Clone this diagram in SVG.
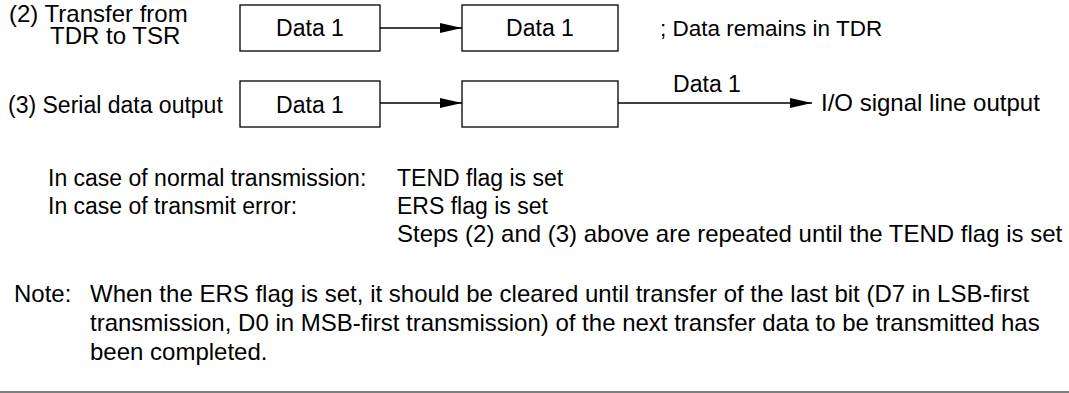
<svg xmlns="http://www.w3.org/2000/svg" width="1069" height="393" viewBox="0 0 1069 393">
<defs>
<style>
text{font-family:"Liberation Sans",Arial,sans-serif;font-size:23px;fill:#000}
.c{text-anchor:middle}
.l{font-size:24px}
.box{fill:#fff;stroke:#000;stroke-width:1.3}
.ln{stroke:#000;stroke-width:1.3;fill:none}
</style>
<marker id="ah" markerUnits="userSpaceOnUse" markerWidth="24" markerHeight="12" refX="22" refY="5" orient="auto">
<path d="M0,0 L22,5 L0,10 Z" fill="#000"/>
</marker>
</defs>
<rect width="1069" height="393" fill="#fff"/>
<g id="labels">
<text class="l" x="9" y="22">(2) Transfer from</text>
<text class="l" x="50" y="44">TDR to TSR</text>
<text x="8" y="113">(3) Serial data output</text>
</g>
<g id="tdr1"><rect class="box" x="240" y="5" width="140" height="46"/><text class="c" x="310" y="36">Data 1</text></g>
<g id="tsr1"><rect class="box" x="462" y="5" width="156" height="46"/><text class="c" x="540" y="36">Data 1</text></g>
<g id="note1"><text x="660" y="36" style="font-size:22.5px">; Data remains in TDR</text></g>
<g id="tdr2"><rect class="box" x="240" y="81" width="140" height="46"/><text class="c" x="310" y="113">Data 1</text></g>
<g id="tsr2"><rect class="box" x="462" y="81" width="156" height="46"/></g>
<g id="out"><text class="l" x="821" y="111">I/O signal line output</text></g>
<g id="connectors">
<line class="ln" x1="380" y1="28" x2="462" y2="28" marker-end="url(#ah)"/>
<line class="ln" x1="380" y1="103" x2="462" y2="103" marker-end="url(#ah)"/>
<line class="ln" x1="618" y1="103" x2="812" y2="103" marker-end="url(#ah)"/>
<text class="c" x="707" y="92">Data 1</text>
</g>
<g id="status">
<text x="48" y="186">In case of normal transmission:</text>
<text x="397" y="186">TEND flag is set</text>
<text x="48" y="214">In case of transmit error:</text>
<text x="397" y="214">ERS flag is set</text>
<text class="l" x="397" y="242">Steps (2) and (3) above are repeated until the TEND flag is set</text>
</g>
<g id="note">
<text class="l" x="14" y="302">Note:</text>
<text class="l" x="90" y="302">When the ERS flag is set, it should be cleared until transfer of the last bit (D7 in LSB-first</text>
<text class="l" x="90" y="331">transmission, D0 in MSB-first transmission) of the next transfer data to be transmitted has</text>
<text class="l" x="90" y="360">been completed.</text>
</g>
<line x1="0" y1="392" x2="1069" y2="392" stroke="#555" stroke-width="1.5"/>
</svg>
